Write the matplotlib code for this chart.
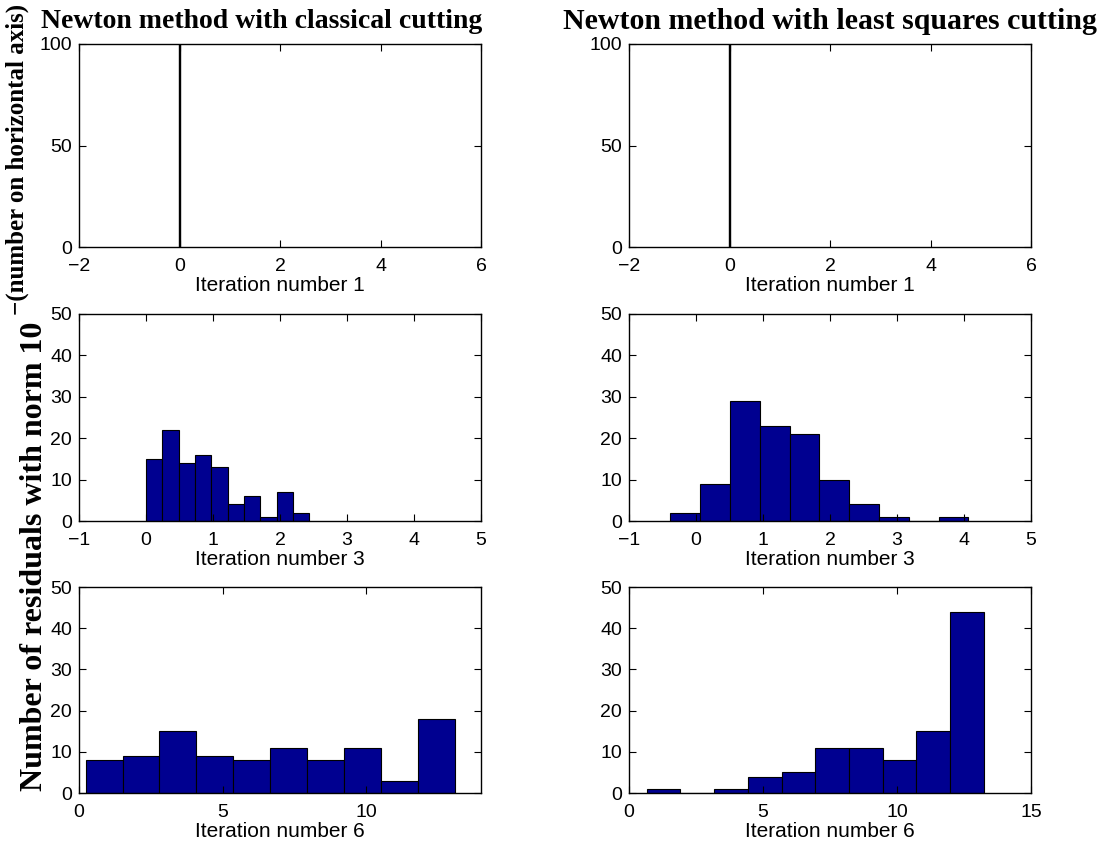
import numpy as np
import matplotlib.pyplot as plt

plt.rcParams['font.family'] = ['Liberation Sans', 'DejaVu Sans']

navy = '#000090'

# iteration 1: all residuals at 0 (single spike of 100)
it1_centers = [0.0]
it1_counts = [100]

# iteration 3, classical cutting: 10 bins from 0 to ~2.44
it3_cl_start = 0.0
it3_cl_width = 0.244
it3_cl_counts = [15, 22, 14, 16, 13, 4, 6, 1, 7, 2]

# iteration 3, least squares cutting
it3_ls_start = -0.384
it3_ls_width = 0.445
it3_ls_counts = [2, 9, 29, 23, 21, 10, 4, 1, 0, 1]

# iteration 6, classical cutting
it6_cl_start = 0.232
it6_cl_width = 1.285
it6_cl_counts = [8, 9, 15, 9, 8, 11, 8, 11, 3, 18]

# iteration 6, least squares cutting
it6_ls_start = 0.659
it6_ls_width = 1.258
it6_ls_counts = [1, 0, 1, 4, 5, 11, 11, 8, 15, 44]

W, H = 1101, 842
fig = plt.figure(figsize=(W / 100, H / 100), dpi=100)

lefts = [79 / W, 629 / W]
w = 402 / W
rows = [(1 - 247 / H, 203 / H), (1 - 521 / H, 207 / H), (1 - 793 / H, 206 / H)]


def style(ax, xlim, ylim, xticks, yticks, xlabel):
    ax.set_xlim(*xlim)
    ax.set_ylim(*ylim)
    ax.set_xticks(xticks)
    ax.set_yticks(yticks)
    ax.tick_params(direction='in', top=True, right=True, length=5, width=0.8,
                   labelsize=14)
    ax.tick_params(axis='x', pad=8)
    ax.tick_params(axis='y', pad=5)
    for s in ax.spines.values():
        s.set_linewidth(1.0)
    ax.set_xlabel(xlabel, fontsize=15, labelpad=0.5)


def hist_bars(ax, start, width, counts):
    x = start + width * np.arange(len(counts))
    ax.bar(x, counts, width=width, align='edge', color=navy,
           edgecolor='black', linewidth=0.8)


for col in range(2):
    ax = fig.add_axes([lefts[col], rows[0][0], w, rows[0][1]])
    ax.bar(it1_centers, it1_counts, width=0.02, color=navy,
           edgecolor='black', linewidth=1.0)
    style(ax, (-2, 6), (0, 100), [-2, 0, 2, 4, 6], [0, 50, 100],
          'Iteration number 1')

ax = fig.add_axes([lefts[0], rows[1][0], w, rows[1][1]])
hist_bars(ax, it3_cl_start, it3_cl_width, it3_cl_counts)
style(ax, (-1, 5), (0, 50), range(-1, 6), range(0, 51, 10), 'Iteration number 3')

ax = fig.add_axes([lefts[1], rows[1][0], w, rows[1][1]])
hist_bars(ax, it3_ls_start, it3_ls_width, it3_ls_counts)
style(ax, (-1, 5), (0, 50), range(-1, 6), range(0, 51, 10), 'Iteration number 3')

ax = fig.add_axes([lefts[0], rows[2][0], w, rows[2][1]])
hist_bars(ax, it6_cl_start, it6_cl_width, it6_cl_counts)
style(ax, (0, 14), (0, 50), [0, 5, 10], range(0, 51, 10), 'Iteration number 6')

ax = fig.add_axes([lefts[1], rows[2][0], w, rows[2][1]])
hist_bars(ax, it6_ls_start, it6_ls_width, it6_ls_counts)
style(ax, (0, 15), (0, 50), [0, 5, 10, 15], range(0, 51, 10), 'Iteration number 6')

# column titles
serif = dict(family='Liberation Serif', weight='bold')
fig.text(262 / W, 1 - 21.5 / H, 'Newton method with classical cutting',
         fontsize=20, ha='center', va='center', **serif)
fig.text(830 / W, 1 - 21.5 / H, 'Newton method with least squares cutting',
         fontsize=21.5, ha='center', va='center', **serif)

# shared y label: main text plus superscript exponent
fig.text(20 / W, 1 - 791 / H, 'Number of residuals with norm 10',
         fontsize=23, rotation=90, ha='left', va='bottom', **serif)
fig.text(6 / W, 1 - 4 / H, '\u2212(number on horizontal axis)',
         fontsize=18, rotation=90, ha='left', va='top', **serif)

fig.savefig('out.png', dpi=100)
